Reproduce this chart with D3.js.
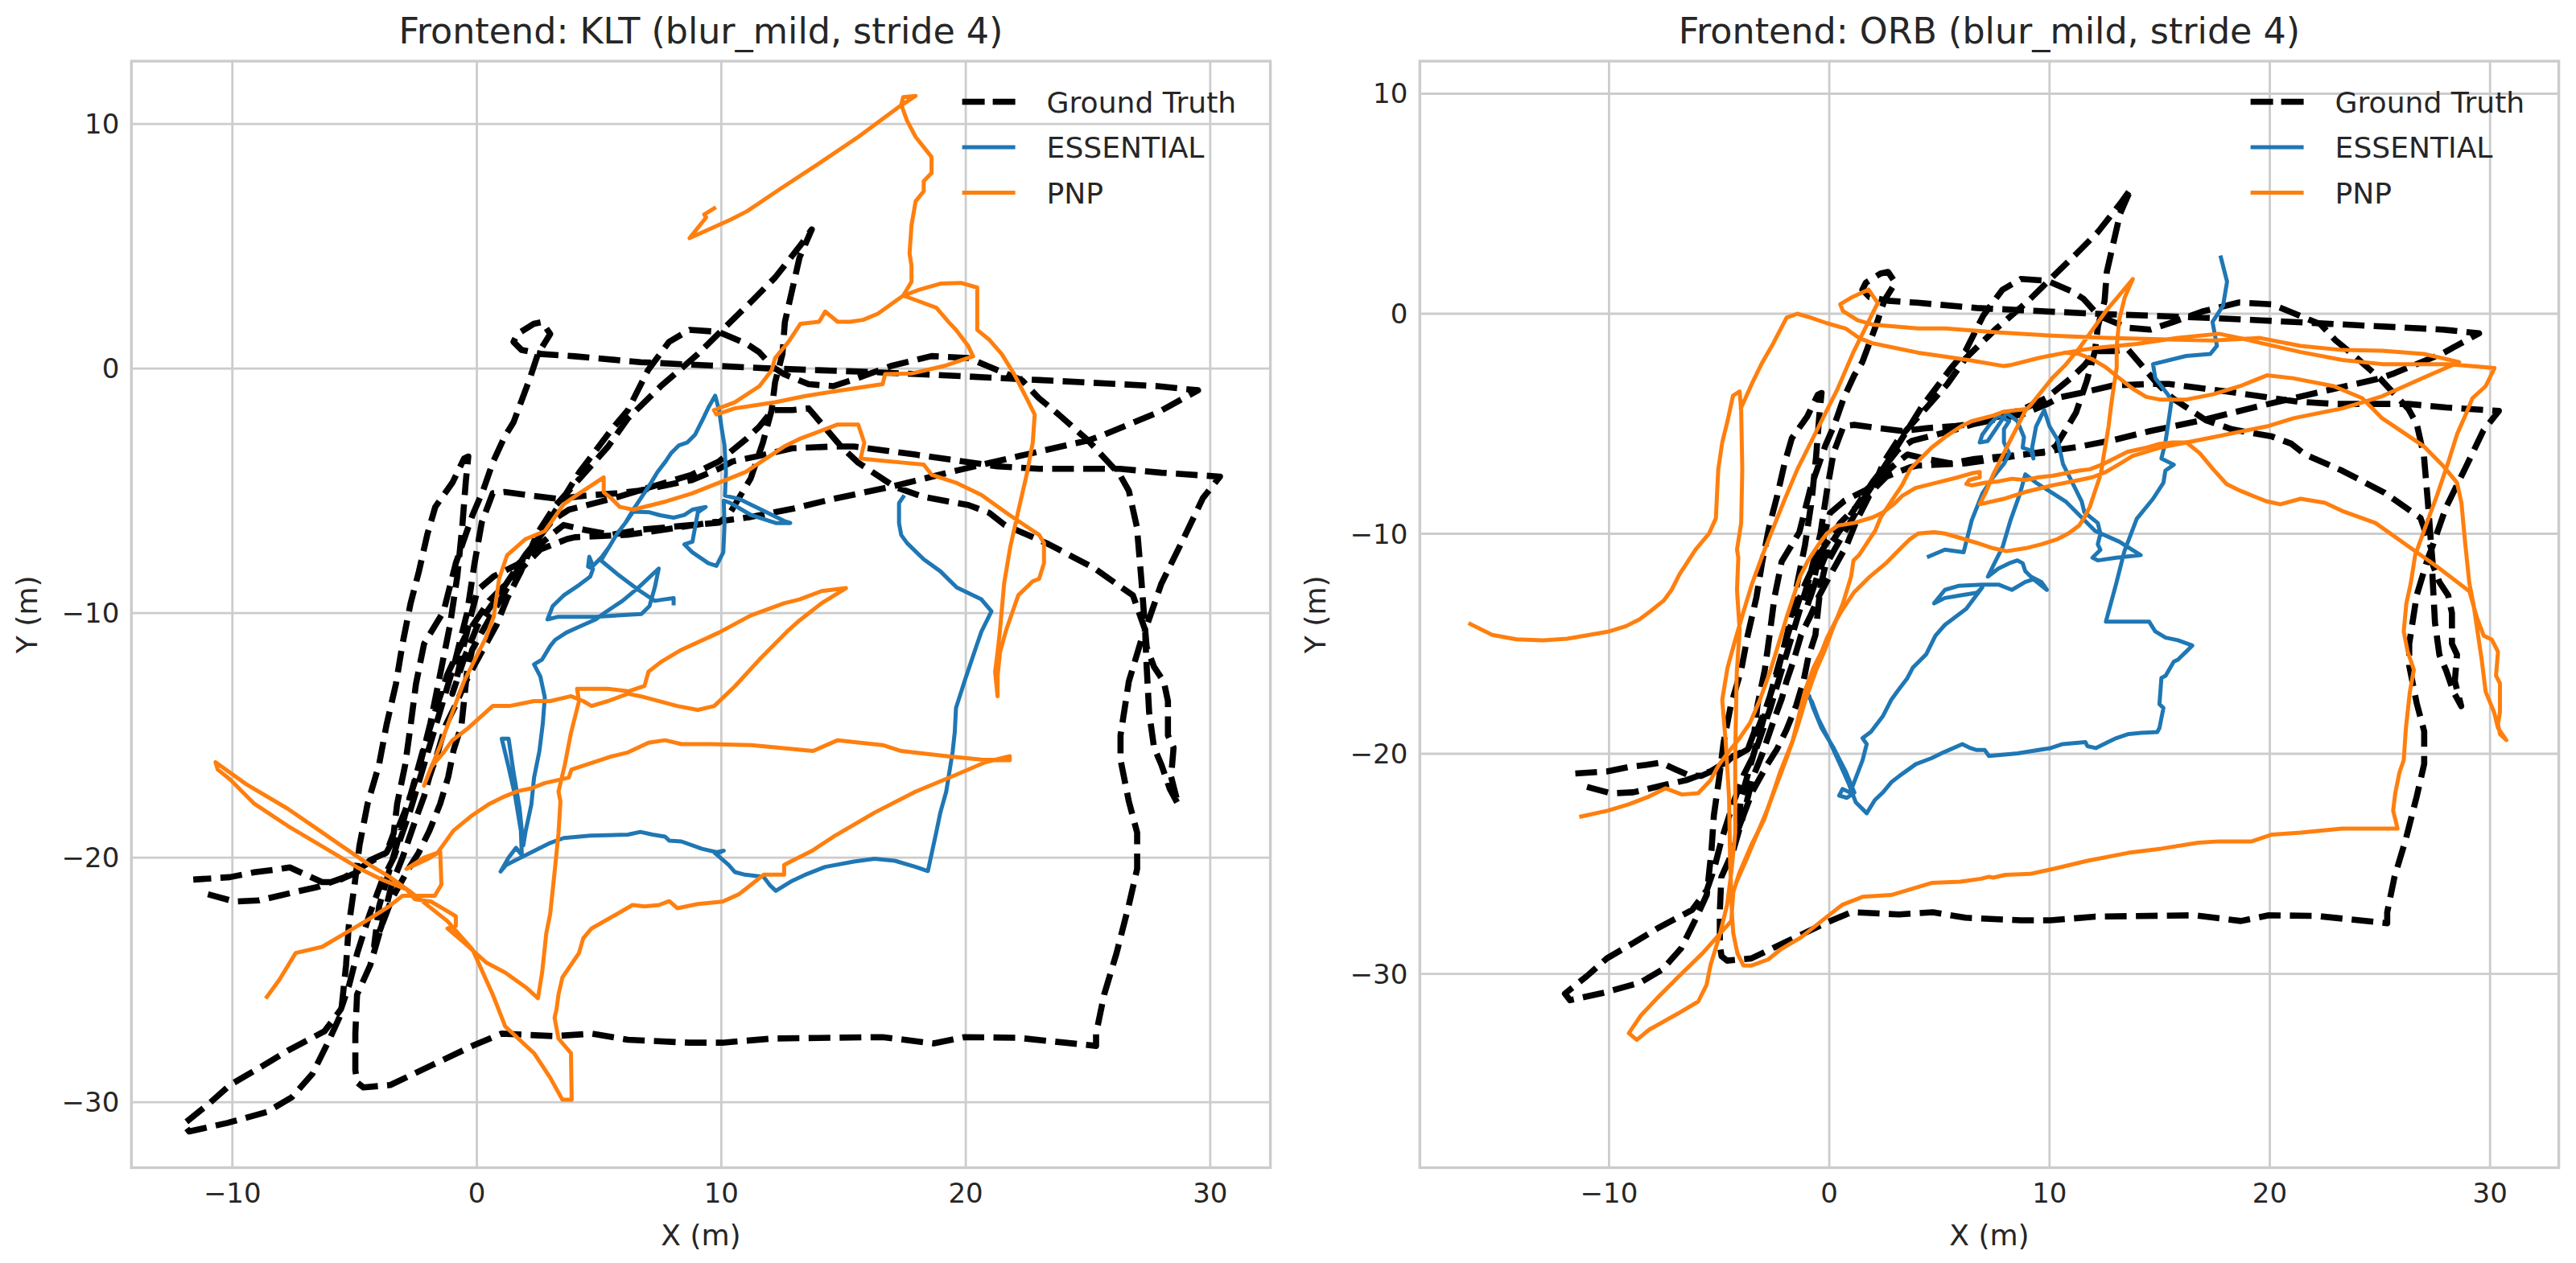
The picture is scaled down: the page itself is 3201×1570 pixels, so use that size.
<!DOCTYPE html>
<html>
<head>
<meta charset="utf-8">
<script src="https://cdnjs.cloudflare.com/ajax/libs/d3/7.8.5/d3.min.js"></script>
<style>
  body { margin: 0; background: #fff; }
  svg text { font-family: "DejaVu Sans", sans-serif; fill: #262626; }
</style>
</head>
<body>
<svg id="fig" width="3201" height="1570"></svg>
<script>
// ground truth trajectory (same in both panels), metres
const groundTruth = [
  [-11.0,-21.5],[-9.9,-21.8],[-8.9,-21.75],[-7.4,-21.4],[-6.5,-21.2],[-5.4,-20.8],[-4.4,-20.2],[-3.7,-19.8],[-3.38,-19.2],[-2.9,-18.0],[-2.4,-16.5],[-1.9,-14.5],[-1.5,-12.5],[-1.1,-10.5],[-0.8,-8.5],[-0.6,-6.5],[-0.45,-4.6],[-0.35,-3.6],
  [-0.52,-3.68],[-1.0,-4.67],[-1.7,-5.66],[-2.03,-6.8],[-2.37,-8.3],[-2.71,-9.6],[-3.04,-11.26],[-3.31,-12.9],[-3.7,-14.6],[-4.0,-16.2],[-4.47,-17.8],[-4.8,-19.5],[-5.0,-21.1],[-5.24,-22.8],[-5.35,-24.4],[-5.56,-26.4],[-6.06,-27.5],[-6.73,-28.85],[-7.57,-29.8],[-8.58,-30.4],[-10.2,-30.85],[-11.77,-31.2],[-12.0,-30.9],[-11.0,-30.1],[-10.1,-29.3],[-8.9,-28.6],[-7.74,-27.9],[-6.23,-27.1],[-5.56,-26.2],[-5.22,-25.2],[-4.89,-23.9],[-4.38,-22.3],[-3.88,-20.95],[-3.38,-19.96],
  [-2.7,-18.0],[-2.1,-16.0],[-1.5,-14.0],[-0.9,-12.0],[-0.4,-10.0],[-0.1,-8.0],[0.2,-6.3],[0.65,-5.1],[1.13,-5.05],[2.23,-5.2],[3.33,-5.33],[4.42,-5.2],[5.74,-5.1],[6.62,-5.0],[7.7,-4.78],[8.8,-4.56],[9.9,-4.1],[10.46,-3.8],[11.56,-3.57],[12.9,-3.26],[14.58,-3.19],[15.42,-3.19],[17.94,-3.52],[21.3,-4.0],[23.0,-4.1],[26.3,-4.1],[28.0,-4.26],[30.4,-4.42],[29.7,-5.3],[28.9,-6.97],[28.0,-8.8],[27.34,-10.7],
  [27.35,-11.1],[27.4,-12.2],[27.5,-14.05],[27.7,-15.5],[28.0,-16.2],[28.35,-17.2],[28.69,-17.83],[28.4,-16.7],[28.5,-15.5],[28.27,-15.0],[28.27,-13.6],[28.1,-12.8],[27.7,-12.2],[27.4,-11.4],[27.34,-10.7],
  [27.18,-8.6],[27.0,-6.48],[26.67,-5.0],[26.3,-4.34],[25.0,-2.94],[23.8,-1.88],[22.98,-1.2],[22.3,-0.48],[20.1,0.43],[18.6,0.51],[16.93,0.1],[15.58,-0.39],[14.58,-0.72],[13.57,-0.64],[12.56,-0.23],[12.06,0.1],[11.55,0.67],[11.05,1.0],[9.88,1.5],[8.7,1.58],[7.86,1.09],[7.0,-0.07],[6.18,-1.7],[5.52,-2.48],[4.86,-3.36],[4.2,-4.23],[3.66,-5.1],[3.1,-6.0],[2.56,-6.86],[2.0,-7.74],[1.57,-8.4],[1.13,-9.17],[0.69,-9.93],[0.25,-10.7],[-0.19,-11.5],[-0.4,-12.4],[-0.63,-14.6],[-0.95,-15.6],[-1.17,-16.7],[-1.5,-17.8],[-1.94,-18.9],[-2.38,-19.8],[-2.82,-20.5],[-3.48,-21.7],[-3.9,-22.8],[-4.36,-24.4],[-4.9,-25.6],[-4.97,-27.2],[-4.97,-28.7],[-4.89,-29.2],[-4.64,-29.4],
  [-3.54,-29.3],[-1.86,-28.5],[-0.18,-27.7],[1.0,-27.2],[3.17,-27.3],[4.7,-27.2],[6.18,-27.45],[8.7,-27.57],[10.04,-27.57],[12.06,-27.4],[16.6,-27.34],[18.69,-27.6],[19.95,-27.34],[22.14,-27.37],[25.33,-27.7],[25.33,-27.2],[25.66,-25.6],[26.17,-23.9],[26.67,-21.94],[27.01,-20.46],[27.01,-18.98],[26.67,-17.7],[26.33,-16.0],[26.33,-15.0],[26.67,-12.8],[27.18,-11.1],[27.34,-10.7],
  [26.84,-9.28],[25.2,-8.13],[23.3,-7.14],[21.6,-6.4],[20.96,-5.9],[20.1,-5.58],[18.27,-5.25],[17.1,-4.84],[15.6,-3.85],[14.9,-3.19],[13.57,-1.63],[12.9,-1.7],[12.1,-1.7],[11.56,-2.37],[11.0,-2.9],[9.9,-3.8],[8.8,-4.34],[7.7,-4.67],[6.6,-5.0],[5.5,-5.33],[4.64,-5.55],[3.77,-5.77],[3.1,-6.2],[2.0,-7.6],[1.0,-9.1],[0.03,-10.5],[-0.5,-11.8],[-1.0,-13.3],[-0.85,-12.8],[-0.52,-11.26],[-0.19,-9.9],[0.03,-9.06],[0.69,-8.5],[1.68,-8.0],[2.23,-7.5],[3.1,-6.75],[3.55,-6.4],[4.42,-6.6],[5.5,-6.8],[6.6,-6.6],[7.7,-6.5],[8.8,-6.4],[9.9,-6.3],[10.3,-6.0],
  [10.7,-5.33],[11.2,-4.5],[11.7,-3.03],[12.06,-1.7],[12.2,-0.56],[12.5,0.59],[12.6,1.9],[12.9,3.22],[13.2,4.54],[13.7,5.69],[13.23,5.03],[12.2,3.72],[11.22,2.73],[10.04,1.58],[9.04,0.59],[7.53,-0.72],[6.18,-2.04],[5.36,-3.2],[4.35,-4.34],[3.17,-5.66],[2.5,-6.7],[1.8,-8.3],[1.24,-9.4],[0.8,-10.5],[0.36,-11.3],[-0.08,-12.1],[-0.5,-12.9],[-0.84,-13.7],[-1.28,-14.6],[-1.6,-15.7],[-1.94,-16.7],[-2.16,-17.5],[-2.49,-18.4],[-3.04,-20.0],[-3.48,-21.1],[-3.9,-22.8],[-4.2,-23.6],
  [-4.0,-22.0],[-3.6,-20.6],[-3.2,-19.2],[-2.7,-17.4],[-2.2,-15.6],[-1.7,-14.0],[-1.2,-12.5],[-0.5,-11.0],[0.5,-9.5],[1.6,-8.4],[2.6,-7.4],[3.7,-6.97],[4.0,-6.9],[6.18,-6.8],[7.86,-6.56],[9.54,-6.3],[11.2,-6.07],[12.9,-5.74],[14.58,-5.33],[16.93,-4.84],[17.94,-4.59],[19.6,-4.18],[22.1,-3.6],[25.0,-2.94],[25.67,-2.7],[27.85,-1.8],[29.5,-0.89],
  [27.85,-0.72],[23.0,-0.47],[19.6,-0.3],[16.3,-0.15],[12.06,0.0],[6.7,0.26],[4.0,0.5],[2.67,0.59],[1.83,0.76],[1.5,1.09],[1.66,1.41],[2.33,1.83],[2.67,1.9],[3.0,1.41],[2.5,0.6],[2.17,-0.4],[1.5,-2.2],[1.13,-2.8],[0.65,-3.85],[0.25,-5.0],[-0.18,-6.0],[-0.86,-7.96],[-1.36,-9.93],[-2.16,-11.26],[-2.49,-12.9],[-2.71,-14.6],[-2.93,-16.2],[-3.26,-17.8],[-3.4,-19.0],[-3.7,-19.8],[-4.36,-20.1],[-4.9,-20.6],[-5.35,-20.8],[-5.8,-21.0],[-6.33,-21.0],[-7.0,-20.7],[-7.65,-20.4],[-8.3,-20.5],[-9.1,-20.6],[-10.1,-20.8],[-11.6,-20.9]
];

// KLT frontend estimates
const kltEssential = [
  [8.05,-9.6],[8.05,-9.39],[7.6,-9.45],[7.28,-9.5],[6.62,-9.06],[5.74,-8.4],[5.08,-7.85],[5.41,-7.3],[5.74,-6.75],[6.07,-6.32],[6.4,-5.77],[6.62,-5.44],[7.06,-4.78],[7.39,-4.23],[7.72,-3.8],[7.94,-3.47],[8.27,-3.14],[8.6,-3.03],[8.93,-2.7],[9.26,-2.04],[9.47,-1.6],[9.75,-1.11],
  [9.91,-1.71],[10.02,-2.48],[10.13,-3.14],[10.19,-4.23],[10.15,-5.2],[10.72,-5.33],[11.73,-5.82],[12.57,-6.23],[12.82,-6.32],[12.23,-6.32],[11.23,-6.0],[10.38,-5.5],[10.1,-5.4],[10.13,-6.43],[10.08,-7.52],[9.8,-8.07],[9.47,-7.96],[8.82,-7.52],[8.49,-7.19],[8.82,-7.08],[9.04,-5.88],[9.36,-5.66],[8.82,-5.77],[8.49,-5.99],[8.05,-6.1],[7.5,-6.0],[7.06,-5.88],[6.4,-5.85],[6.07,-6.32],[5.74,-6.75],[5.41,-7.3],[5.08,-7.74],[4.75,-8.07],[4.6,-7.7],[4.55,-8.1],[4.75,-8.2],
  [4.64,-8.51],[4.2,-8.84],[3.55,-9.28],[3.1,-9.72],[2.89,-10.26],[3.33,-10.15],[4.86,-10.15],[5.74,-10.1],[6.73,-10.04],[7.06,-9.72],[7.28,-8.95],[7.44,-8.18],[6.62,-8.95],[5.96,-9.5],[5.3,-9.94],[4.86,-10.26],[4.1,-10.6],[3.66,-10.8],[3.2,-11.1],[3.0,-11.35],[2.67,-11.9],[2.34,-12.1],[2.6,-12.6],[2.78,-13.45],[2.7,-14.5],[2.56,-15.64],[2.34,-16.73],[2.23,-17.83],[2.0,-18.9],[1.9,-19.5],
  [1.75,-18.0],[1.5,-16.5],[1.3,-15.14],[1.02,-15.14],[1.3,-16.3],[1.57,-17.5],[1.8,-18.9],[1.84,-19.9],[1.6,-19.6],[1.3,-20.0],[0.97,-20.57],[1.2,-20.3],[1.6,-20.1],[2.0,-19.9],[3.0,-19.4],[3.55,-19.2],[4.64,-19.1],[6.18,-19.06],[6.69,-18.95],[7.19,-19.06],[7.7,-19.14],[7.87,-19.31],[8.37,-19.34],[9.21,-19.64],[9.9,-19.8],[10.1,-19.72],[9.72,-19.8],[10.3,-20.3],[10.55,-20.59],[10.97,-20.7],[11.73,-20.79],[11.98,-21.12],[12.23,-21.36],[12.9,-20.95],[13.41,-20.71],[14.25,-20.38],[15.42,-20.16],[16.27,-20.05],[17.1,-20.13],[17.95,-20.38],[18.45,-20.55],
  [18.79,-18.98],[18.96,-18.16],[19.2,-17.3],[19.46,-15.69],[19.55,-14.87],[19.6,-13.88],[19.97,-12.73],[20.47,-11.25],[20.64,-10.76],[21.05,-9.93],[20.64,-9.44],[19.63,-8.95],[18.96,-8.29],[18.28,-7.8],[17.6,-7.14],[17.36,-6.81],[17.27,-6.32],[17.27,-5.5],[17.44,-5.25]
];

const kltPnp = [
  [-8.59,-25.7],[-8.08,-25.0],[-7.41,-23.9],[-6.33,-23.65],[-5.4,-23.1],[-4.47,-22.55],[-3.6,-22.0],[-3.04,-21.56],[-1.72,-21.56],[-1.45,-21.1],[-1.5,-19.75],[-1.94,-20.02],[-2.88,-20.46],[-2.16,-20.0],[-1.61,-19.8],[-1.39,-19.5],[-0.96,-18.9],[-0.19,-18.27],[0.47,-17.83],[1.13,-17.5],[1.68,-17.28],[2.23,-17.17],[2.78,-16.95],[3.76,-16.73],[3.87,-16.4],[5.52,-15.86],[6.18,-15.7],[7.02,-15.3],[7.7,-15.2],[8.37,-15.36],[9.55,-15.36],[11.23,-15.4],[13.75,-15.64],[14.76,-15.2],[16.6,-15.4],[17.36,-15.64],[19.3,-15.86],[20.64,-15.99],[21.8,-16.02],
  [21.8,-15.85],[20.8,-16.1],[19.63,-16.6],[17.95,-17.3],[16.27,-18.16],[14.58,-19.15],[13.75,-19.7],[12.9,-20.13],[12.57,-20.3],[12.57,-20.7],[11.73,-20.7],[11.23,-21.1],[10.72,-21.5],[10.05,-21.8],[9.04,-21.9],[8.2,-22.07],[7.87,-21.78],[7.45,-21.94],[6.86,-22.0],[6.37,-21.94],[4.69,-22.9],[4.35,-23.3],[4.18,-23.9],[3.5,-24.9],[3.34,-25.6],[3.26,-26.2],[3.18,-26.55],[3.34,-27.4],[3.85,-28.0],[3.88,-29.9],[3.5,-29.9],[3.0,-29.0],[2.34,-28.0],[1.16,-26.9],[0.65,-25.6],[0.2,-24.6],[-0.18,-23.75],
  [-1.2,-22.6],[-2.71,-21.4],[-3.55,-20.8],[-4.39,-20.3],[-5.56,-19.5],[-6.57,-18.8],[-7.74,-18.0],[-9.43,-17.0],[-10.69,-16.1],[-10.6,-16.4],[-10.1,-16.8],[-9.1,-17.8],[-7.74,-18.7],[-6.06,-19.7],[-4.89,-20.4],[-3.88,-20.9],[-2.87,-21.3],[-2.54,-21.7],[-1.87,-21.8],[-1.36,-22.1],[-0.86,-22.4],[-0.86,-22.8],[-1.2,-22.9],[-0.5,-23.5],[0.4,-24.3],[1.16,-24.7],[2.0,-25.3],[2.5,-25.75],
  [2.67,-24.7],[2.84,-23.1],[3.0,-22.3],[3.18,-20.6],[3.34,-19.0],[3.42,-17.7],[3.34,-17.3],[3.6,-16.2],[3.85,-14.9],[4.18,-13.6],[4.1,-13.1],[4.69,-13.1],[5.36,-13.1],[6.2,-13.2],[6.86,-12.98],[7.02,-12.4],[7.53,-12.0],[8.37,-11.5],[9.9,-10.8],[11.2,-10.1],[12.57,-9.6],[13.2,-9.44],[14.1,-9.1],[15.1,-8.98],[14.1,-9.6],[13.2,-10.3],[12.75,-10.7],[11.56,-11.9],[10.55,-13.0],[9.71,-13.8],[9.04,-13.96],[8.2,-13.8],[6.69,-13.4],[6.18,-13.3],[5.36,-13.6],[4.69,-13.8],[4.35,-13.6],[3.85,-13.4],[3.0,-13.6],[2.34,-13.6],[1.33,-13.8],[0.65,-13.8],[-0.35,-14.7],[-1.0,-15.2],[-1.36,-15.7],[-1.87,-16.3],[-2.16,-17.06],
  [-1.94,-16.5],[-1.5,-15.42],[-1.18,-14.54],[-0.85,-13.66],[-0.52,-12.78],[-0.08,-11.9],[0.36,-11.03],[0.69,-10.15],[0.91,-8.6],[1.24,-7.63],[2.0,-6.97],[2.78,-6.65],[3.1,-6.2],[3.55,-5.55],[4.2,-5.1],[5.19,-4.45],[5.19,-5.06],[5.52,-5.33],[5.85,-5.66],[6.4,-5.77],[7.72,-5.44],[8.8,-5.11],[9.9,-4.67],[11.0,-4.23],[12.57,-3.19],[13.24,-2.86],[14.76,-2.29],[15.6,-2.29],[15.85,-3.03],[15.7,-3.68],[16.6,-3.77],[17.44,-3.85],[18.28,-3.93],[18.6,-4.34],[19.6,-4.67],[20.64,-5.17],[21.8,-6.0],[23.0,-6.8],[23.2,-7.14],[23.2,-7.96],[23.0,-8.6],[22.74,-8.7],[22.15,-9.27],[21.65,-10.7],[21.4,-11.6],[21.3,-12.6],[21.3,-13.4],
  [21.2,-12.4],[21.3,-11.6],[21.4,-10.7],[21.57,-8.78],[21.82,-7.3],[22.15,-5.82],[22.49,-4.34],[22.74,-3.03],[22.82,-1.88],[22.49,-1.22],[21.98,-0.23],[21.47,0.59],[20.97,1.17],[20.47,1.58],[20.47,3.31],[19.8,3.5],[18.96,3.47],[18.1,3.22],[17.44,2.98],[17.95,2.8],[18.8,2.48],[19.3,1.9],[19.6,1.58],[20.1,0.92],[20.3,0.5],[19.1,0.1],[17.8,-0.2],[16.7,-0.23],[16.6,-0.64],[14.9,-0.89],[13.4,-1.13],[12.2,-1.38],[10.55,-1.63],[9.8,-1.88],[9.7,-1.7],[10.55,-1.38],[11.56,-0.72],[12.06,-0.07],[12.2,0.43],[12.75,1.09],[13.24,1.83],[14.0,1.91],[14.25,2.33],[14.76,1.91],[15.26,1.91],[15.8,1.99],[16.4,2.24],[17.44,2.98],
  [17.78,3.55],[17.78,4.21],[17.7,4.7],[17.78,5.86],[17.95,6.84],[18.28,7.25],[18.28,7.66],[18.6,8.0],[18.6,8.65],[17.95,9.47],[17.6,10.13],[17.36,10.79],[17.44,11.1],[17.95,11.15],[17.27,10.7],[15.6,9.47],[13.9,8.32],[12.4,7.34],[11.05,6.43],[10.4,6.1],[8.7,5.33],[9.38,6.18],[9.3,6.3],[9.71,6.55]
];

// ORB frontend estimates
const orbEssential = [
  [4.52,-11.03],[5.25,-10.72],[6.1,-10.84],[6.22,-10.36],[6.47,-9.38],[6.95,-8.17],[7.44,-7.43],[7.93,-6.82],[8.17,-6.34],[7.93,-5.85],[7.93,-5.24],[8.17,-4.88],[7.68,-4.63],[7.31,-5.0],[6.95,-5.49],[6.83,-5.85],[7.19,-5.79],[7.56,-5.24],[8.05,-4.51],[8.54,-4.88],[8.84,-5.61],[8.78,-6.09],[9.15,-6.22],[9.27,-6.58],[9.21,-6.09],[9.39,-5.12],[9.63,-4.63],[9.76,-4.39],
  [10.0,-5.12],[10.37,-5.73],[10.61,-6.83],[10.98,-7.56],[11.46,-8.53],[11.58,-9.02],[12.19,-9.51],[12.31,-9.99],[12.19,-10.48],[12.31,-10.73],[11.95,-11.09],[12.19,-11.21],[13.04,-11.09],[14.14,-10.97],[13.17,-10.36],[12.07,-9.87],[10.73,-8.53],[9.39,-7.68],[8.9,-7.3],[8.66,-8.17],[8.23,-9.38],[7.87,-10.6],[7.44,-11.46],[7.2,-11.95],
  [7.68,-11.58],[8.17,-11.34],[8.54,-11.21],[8.78,-11.34],[8.9,-11.7],[9.15,-11.95],[9.63,-12.19],[9.88,-12.55],[9.27,-12.07],[8.9,-12.19],[8.29,-12.55],[7.68,-12.31],[6.95,-12.31],[5.86,-12.37],[5.25,-12.55],[4.76,-13.16],[5.25,-12.92],[5.98,-12.8],[6.71,-12.68],[6.95,-12.43],
  [6.22,-13.41],[5.25,-14.14],[4.82,-14.63],[4.4,-15.48],[3.79,-16.09],[3.54,-16.57],[3.17,-17.06],[2.81,-17.55],[2.44,-18.28],[1.89,-19.0],[1.51,-19.29],[1.7,-19.56],[1.51,-20.3],[0.95,-21.76],[0.6,-21.6],[0.45,-21.9],[0.8,-22.0],[1.14,-21.76],[0.76,-20.84],[0.2,-19.74],[-0.35,-18.83],[-0.73,-17.92],[-0.91,-17.37],[-1.1,-17.2],[-0.8,-17.6],[-0.5,-18.4],[0.0,-19.4],[0.5,-20.5],[0.9,-21.4],[1.2,-22.2],[1.7,-22.7],
  [2.07,-22.1],[2.44,-21.75],[2.81,-21.3],[3.19,-21.0],[3.93,-20.47],[4.64,-20.2],[5.2,-19.93],[6.04,-19.56],[6.41,-19.74],[6.69,-19.83],[7.06,-19.83],[7.25,-20.1],[8.55,-19.98],[9.11,-19.89],[10.05,-19.74],[10.6,-19.56],[11.63,-19.47],[11.72,-19.65],[12.1,-19.74],[12.65,-19.47],[13.03,-19.29],[13.59,-19.1],[14.15,-19.05],[14.89,-19.01],[14.99,-18.83],[15.17,-17.92],[14.99,-17.74],[15.08,-16.55],[15.27,-16.45],[15.64,-15.81],[15.83,-15.72],[16.2,-15.36],[16.48,-15.08],[15.83,-14.84],[15.27,-14.72],[14.8,-14.44],[14.52,-13.99],[12.56,-13.99],
  [13.03,-12.25],[13.4,-10.79],[13.96,-9.32],[14.7,-8.41],[15.17,-7.68],[15.26,-7.13],[15.64,-6.86],[15.08,-6.58],[15.26,-5.85],[15.45,-4.57],[15.54,-3.93],[15.36,-3.66],[14.8,-2.93],[14.7,-2.29],[16.2,-1.92],[17.3,-1.83],[17.6,-1.46],[17.4,-0.37],[17.88,0.37],[18.06,1.46],[17.78,2.56]
];

// ORB PnP is drawn as three strokes
const orbPnp = [
  [
    [-16.3,-14.1],[-15.3,-14.6],[-14.2,-14.8],[-13.0,-14.84],[-11.9,-14.77],[-10.0,-14.44],[-9.23,-14.2],[-8.62,-13.89],[-8.13,-13.53],[-7.52,-13.04],[-7.16,-12.55],[-6.79,-11.82],[-6.55,-11.46],[-6.07,-10.72],[-5.46,-9.99],[-5.15,-9.3],
    [-5.1,-8.29],[-5.04,-7.07],[-4.86,-5.85],[-4.62,-4.88],[-4.37,-3.72],[-4.07,-3.53],
    [-4.0,-4.39],[-3.95,-7.07],[-4.0,-9.51],[-4.19,-10.72],[-4.13,-11.09],[-4.19,-12.55],[-4.07,-14.38],[-4.2,-16.3],[-4.27,-19.93],[-4.27,-23.58],[-4.45,-25.41],[-4.64,-26.87],[-5.0,-28.33],[-5.39,-29.6],[-5.57,-30.5],[-5.95,-31.26],[-6.88,-31.81],[-8.18,-32.54],[-8.74,-33.0],[-9.1,-32.7],[-8.56,-31.9],[-7.81,-31.1],[-6.88,-30.16],[-5.76,-29.07],[-4.45,-27.6],[-4.36,-26.3],
    [-4.08,-25.4],[-3.52,-24.1],[-2.96,-23.0],[-2.59,-21.9],[-2.22,-20.8],[-1.66,-19.4],[-1.21,-17.55],[-1.08,-17.06],[-0.72,-16.09],[-0.35,-15.36],[-0.11,-14.75],[0.26,-14.02],[0.62,-13.41],[1.11,-12.68],[1.84,-11.95],[2.57,-11.34],[3.18,-10.72],[3.67,-10.24],[4.03,-9.99],[4.76,-9.93],[5.25,-9.99],[5.98,-10.2],[6.71,-10.42],[7.44,-10.66],[8.05,-10.79],[8.9,-10.66],[9.63,-10.48],[10.37,-10.24],[10.85,-9.99],[11.34,-9.63],[11.58,-9.26],[11.83,-8.78],[12.07,-8.04],[12.32,-7.31],[12.44,-6.58],[12.56,-5.85],[12.68,-5.12],[12.8,-4.14],[12.92,-3.29],[13.05,-2.44],[13.05,-1.46],[13.17,-0.24],[13.41,0.73],[13.78,1.58],
    [13.17,0.85],[12.56,0.12],[11.95,-0.73],[11.34,-1.58],[10.73,-2.32],[10.12,-2.93],[9.63,-3.54],[9.15,-4.14],[8.9,-4.4],[8.54,-5.12],[8.17,-5.85],[7.81,-6.58],[7.44,-7.31],[7.08,-8.17],[6.83,-8.66],
    [7.93,-8.41],[8.9,-8.1],[10.12,-7.8],[11.34,-7.56],[11.95,-7.43],[12.56,-7.19],[13.17,-6.83],[13.78,-6.46],[15.0,-6.09],[16.22,-5.85],[17.43,-5.61],[18.65,-5.36],[19.87,-5.12],[21.08,-4.75],[23.3,-4.3],[25.1,-3.75],[27.0,-2.9],[28.6,-2.2],
    [27.0,-1.83],[25.1,-1.68],[23.3,-1.65],[21.4,-1.46],[19.55,-1.1],[17.43,-1.22],[15.0,-1.16],[12.56,-1.1],[10.12,-1.0],[7.68,-0.85],[5.25,-0.67],[4.03,-0.67],[1.96,-0.49],[1.29,-0.3],[0.62,0.12],[0.5,0.43],[0.99,0.73],[1.78,1.1],[2.2,0.49],
    [1.6,-0.73],[1.11,-1.71],[0.38,-3.41],[-0.23,-4.63],[-0.84,-5.85],[-1.45,-7.07],[-2.06,-8.53],[-2.55,-9.75],[-3.03,-10.97],[-3.52,-12.31],[-3.89,-13.53],[-4.25,-14.75],[-4.62,-16.09],[-4.86,-17.55],[-4.7,-19.5],[-4.55,-22.0],[-4.5,-25.0],[-4.42,-27.24],[-4.36,-28.15],[-4.17,-29.07],[-3.9,-29.62],[-3.52,-29.62],[-2.78,-29.35],[-2.22,-28.9],[-1.29,-28.35],[-0.35,-27.6],[0.58,-26.87],[1.51,-26.5],[2.81,-26.42],[4.64,-25.87],
    [5.95,-25.81],[6.88,-25.68],[7.25,-25.59],[7.44,-25.63],[7.99,-25.5],[9.11,-25.46],[10.23,-25.22],[11.72,-24.86],[13.59,-24.5],[15.08,-24.31],[16.76,-24.04],[17.69,-23.98],[19.18,-23.98],[20.1,-23.67],[21.4,-23.58],[23.28,-23.4],[25.8,-23.4],
    [25.6,-22.58],[25.7,-21.76],[25.89,-20.84],[26.08,-20.29],[26.18,-18.83],[26.36,-17.18],[26.54,-16.18],[26.26,-15.36],[26.08,-14.44],[26.2,-13.16],[26.4,-12.25],[26.6,-10.97],[27.0,-9.87],[27.6,-8.23],[28.1,-6.76],[28.5,-5.48],[28.9,-4.57],[29.2,-3.84],[29.8,-3.29],[30.2,-2.47],
    [28.1,-2.29],[27.0,-2.29],[25.1,-2.29],[23.3,-2.1],[21.4,-1.74],[19.55,-1.32],[18.62,-1.1],[17.69,-0.91],[15.82,-1.1],[13.96,-1.37],[12.1,-1.55],[10.73,-1.77],[9.51,-2.01],[8.3,-2.32],[7.93,-2.38],[6.47,-2.13],[5.25,-1.95],[4.03,-1.77],[2.81,-1.52],[1.96,-1.34],[1.35,-1.1],[0.74,-0.67],[-0.11,-0.43],[-0.84,-0.18],[-1.45,0.0],[-1.94,-0.18],[-2.54,-1.34],[-3.03,-2.19],[-3.51,-3.17],[-4.0,-4.27]
  ],
  [
    [10.73,-1.77],[11.34,-1.83],[11.95,-2.07],[12.56,-2.44],[13.17,-2.93],[13.78,-3.41],[14.39,-3.78],[15.0,-3.9],[16.22,-3.9],[17.43,-3.66],[18.65,-3.29],[19.87,-2.8],[21.04,-2.93],[22.9,-3.29],[24.2,-3.84],[25.1,-4.75],[27.0,-6.03],[27.9,-6.95],[28.5,-7.68],[28.7,-8.59],[28.87,-10.42],[29.06,-12.25],[29.24,-13.16],[29.43,-14.44],[29.62,-15.72],[29.8,-17.18],[30.18,-18.1],[30.36,-18.83],[30.74,-19.38],[30.45,-19.1],[30.36,-18.65],[30.45,-18.1],[30.45,-16.8],[30.27,-16.45],[30.36,-15.36],[30.08,-14.81],[29.71,-14.63],[29.4,-13.8],[29.06,-12.61],
    [27.6,-11.5],[26.08,-10.42],[24.8,-9.51],[23.28,-8.96],[22.5,-8.59],[21.4,-8.41],[20.48,-8.66],[19.87,-8.53],[19.26,-8.29],[18.65,-8.04],[18.04,-7.74],[17.43,-7.07],[16.82,-6.34],[16.22,-5.85],[15.6,-5.85],[15.0,-5.91],[14.39,-6.09],[13.53,-6.28],[13.17,-6.46],[12.44,-6.83],[11.83,-7.07],[11.34,-7.13],[10.73,-7.25],[10.12,-7.37],[9.51,-7.43],[8.9,-7.56],[8.29,-7.5],[7.68,-7.62],[7.08,-7.68],[6.47,-7.8],[6.22,-7.74],[6.35,-7.56],[6.83,-7.43],[6.83,-7.19],[6.47,-7.25],[5.86,-7.43],[4.64,-7.74],[3.91,-7.92],[3.3,-8.29],[2.94,-8.65],[2.45,-9.02],[1.96,-9.26],[1.11,-9.51],[0.38,-9.63],[-0.11,-9.99],[-0.48,-10.48],[-0.96,-11.21],[-1.33,-11.95],[-1.57,-12.68],[-1.93,-13.77],[-2.3,-14.99],[-2.67,-16.21],[-3.15,-17.55],[-3.6,-18.6],[-4.08,-19.3],[-4.64,-20.0],[-5.01,-20.5],[-5.39,-21.2],[-5.95,-21.79],[-6.69,-21.85],[-7.44,-21.57],[-8.18,-21.94],[-9.11,-22.3],[-10.05,-22.58],[-11.26,-22.85]
  ],
  [
    [8.9,-4.33],[7.93,-4.45],[7.44,-4.63],[6.47,-4.88],[5.98,-5.12],[5.25,-5.61],[4.64,-6.09],[4.03,-6.7],[3.67,-7.07],[3.3,-7.8],[2.81,-8.53],[2.33,-9.26],[2.08,-9.87],[1.83,-10.24],[1.35,-10.97],[1.1,-11.21],[0.99,-11.95],[0.62,-13.16],[0.13,-14.38],[-0.23,-15.36],[-0.6,-16.21],[-1.08,-17.55],[-1.45,-18.8],[-1.9,-20.1],[-2.35,-21.3],[-2.8,-22.5],[-3.3,-23.7],[-3.8,-24.9],[-4.2,-25.8]
  ]
];

const xTicks = [-10, 0, 10, 20, 30];
const yTicks = [-30, -20, -10, 0, 10];
const seriesNames = ["Ground Truth", "ESSENTIAL", "PNP"];
const panelTitles = ["Frontend: KLT (blur_mild, stride 4)", "Frontend: ORB (blur_mild, stride 4)"];

const panels = [
  { title: panelTitles[0], left: 163.3, right: 1578.6, xDomain: [-14.13, 32.46], yDomain: [-32.68, 12.57],
    essential: [kltEssential], pnp: [kltPnp] },
  { title: panelTitles[1], left: 1764.3, right: 3179.6, xDomain: [-18.59, 33.12], yDomain: [-38.81, 11.48],
    essential: [orbEssential], pnp: orbPnp }
];
const plotTop = 76, plotBottom = 1451.5;

const colors = { gt: "#000000", essential: "#1f77b4", pnp: "#ff7f0e" };
const gridColor = "#cccccc";
const gtWidth = 7.6, estWidth = 5.0;
const fmt = d => d < 0 ? "\u2212" + Math.abs(d) : String(d);

const svg = d3.select("#fig");
svg.append("rect").attr("width", 3201).attr("height", 1570).attr("fill", "#fff");

panels.forEach((p, i) => {
  const x = d3.scaleLinear().domain(p.xDomain).range([p.left, p.right]);
  const y = d3.scaleLinear().domain(p.yDomain).range([plotBottom, plotTop]);
  const g = svg.append("g");

  const clipId = "clip" + i;
  svg.append("clipPath").attr("id", clipId)
    .append("rect").attr("x", p.left).attr("y", plotTop)
    .attr("width", p.right - p.left).attr("height", plotBottom - plotTop);

  // grid
  g.selectAll(".gx").data(xTicks).enter().append("line")
    .attr("x1", d => x(d)).attr("x2", d => x(d)).attr("y1", plotTop).attr("y2", plotBottom)
    .attr("stroke", gridColor).attr("stroke-width", 2.8);
  g.selectAll(".gy").data(yTicks).enter().append("line")
    .attr("y1", d => y(d)).attr("y2", d => y(d)).attr("x1", p.left).attr("x2", p.right)
    .attr("stroke", gridColor).attr("stroke-width", 2.8);

  const line = d3.line().x(d => x(d[0])).y(d => y(d[1]));
  const plot = g.append("g").attr("clip-path", `url(#${clipId})`);

  plot.append("path").datum(groundTruth).attr("d", line)
    .attr("fill", "none").attr("stroke", colors.gt).attr("stroke-width", gtWidth)
    .attr("stroke-dasharray", "27,11.5").attr("stroke-linejoin", "round");

  plot.selectAll(".ess").data(p.essential).enter().append("path").attr("d", line)
    .attr("fill", "none").attr("stroke", colors.essential).attr("stroke-width", estWidth)
    .attr("stroke-linejoin", "round").attr("stroke-linecap", "square");

  plot.selectAll(".pnp").data(p.pnp).enter().append("path").attr("d", line)
    .attr("fill", "none").attr("stroke", colors.pnp).attr("stroke-width", estWidth)
    .attr("stroke-linejoin", "round").attr("stroke-linecap", "square");

  // frame
  g.append("rect").attr("x", p.left).attr("y", plotTop)
    .attr("width", p.right - p.left).attr("height", plotBottom - plotTop)
    .attr("fill", "none").attr("stroke", gridColor).attr("stroke-width", 3.4);

  // tick labels
  g.selectAll(".tx").data(xTicks).enter().append("text")
    .attr("x", d => x(d)).attr("y", 1495).attr("text-anchor", "middle")
    .attr("font-size", 34).text(fmt);
  g.selectAll(".ty").data(yTicks).enter().append("text")
    .attr("x", p.left - 15).attr("y", d => y(d) + 12).attr("text-anchor", "end")
    .attr("font-size", 34).text(fmt);

  // axis labels and title
  const cx = (p.left + p.right) / 2;
  g.append("text").attr("x", cx).attr("y", 1547.5).attr("text-anchor", "middle")
    .attr("font-size", 36.1).text("X (m)");
  g.append("text").attr("transform", `translate(${p.left - 117},${(plotTop + plotBottom) / 2}) rotate(-90)`)
    .attr("text-anchor", "middle").attr("font-size", 36.1).text("Y (m)");
  g.append("text").attr("x", cx).attr("y", 53.5).attr("text-anchor", "middle")
    .attr("font-size", 44.4).text(p.title);

  // legend
  const lx = p.right - 383, tx = p.right - 278;
  const rows = [126.5, 183, 239.5];
  const styles = [
    { c: colors.gt, w: gtWidth, dash: "28,10" },
    { c: colors.essential, w: estWidth, dash: null },
    { c: colors.pnp, w: estWidth, dash: null }
  ];
  seriesNames.forEach((name, k) => {
    const l = g.append("line").attr("x1", lx).attr("x2", lx + 66)
      .attr("y1", rows[k]).attr("y2", rows[k])
      .attr("stroke", styles[k].c).attr("stroke-width", styles[k].w);
    if (styles[k].dash) l.attr("stroke-dasharray", styles[k].dash);
    g.append("text").attr("x", tx).attr("y", rows[k] + 13).attr("font-size", 36.1).text(name);
  });
});
</script>
</body>
</html>
